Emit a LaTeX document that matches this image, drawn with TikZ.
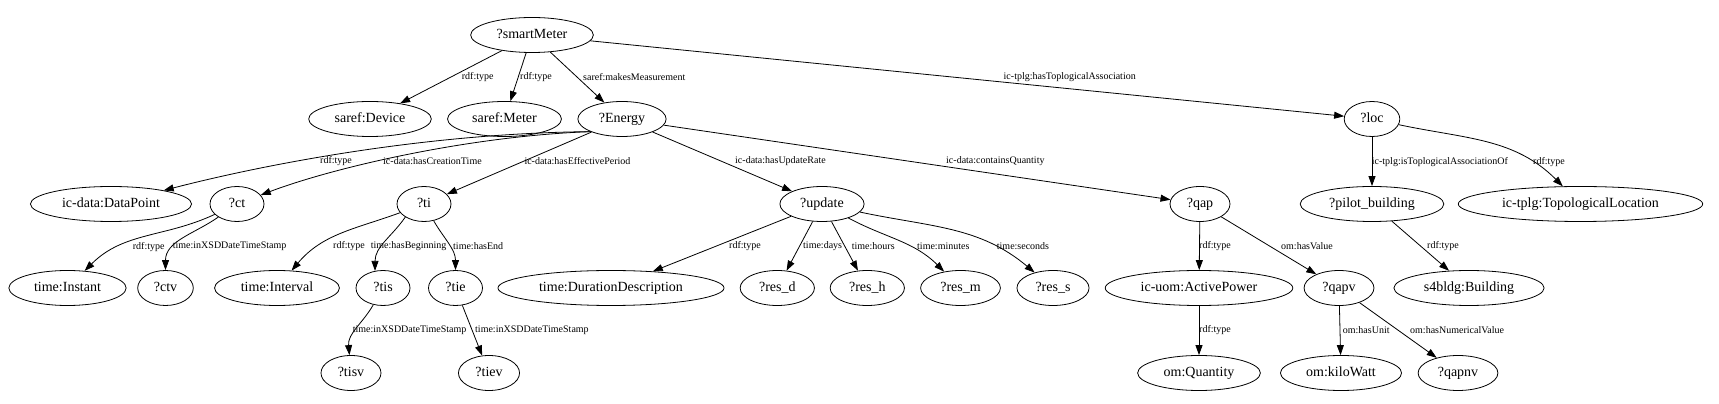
\documentclass[tikz,border=0pt]{standalone}
\usepackage{fontspec}
\setmainfont{Liberation Serif}
\usetikzlibrary{shapes.geometric,arrows.meta}

\begin{document}
\begin{tikzpicture}[x=1pt, y=1pt,
    rdfnode/.style={draw, ellipse, line width=0.8pt, font=\fontsize{14}{16}\selectfont,
      minimum width=54pt, minimum height=35pt, inner xsep=8pt, inner ysep=2pt,
      text height=9.5pt, text depth=3pt},
    rdflabel/.style={font=\fontsize{10}{12}\selectfont, inner sep=0pt, anchor=west},
    link/.style={line width=0.8pt, -{Triangle[length=10pt,width=7pt]}}]
    \useasboundingbox (0,0) rectangle (1719,404);
    \node[rdfnode] (sm) at (532,369) {?smartMeter};
    \node[rdfnode] (dev) at (370,285) {saref:Device};
    \node[rdfnode] (meter) at (504.5,285) {saref:Meter};
    \node[rdfnode] (en) at (622,285) {?Energy};
    \node[rdfnode] (loc) at (1372,285) {?loc};
    \node[rdfnode] (dp) at (111,200) {ic-data:DataPoint};
    \node[rdfnode] (ct) at (237,200) {?ct};
    \node[rdfnode] (ti) at (424,200) {?ti};
    \node[rdfnode] (upd) at (822,200) {?update};
    \node[rdfnode] (qap) at (1200,200) {?qap};
    \node[rdfnode] (pilot) at (1372,200) {?pilot\_building};
    \node[rdfnode] (toploc) at (1580.5,200) {ic-tplg:TopologicalLocation};
    \node[rdfnode] (inst) at (67.5,116) {time:Instant};
    \node[rdfnode] (ctv) at (165.5,116) {?ctv};
    \node[rdfnode] (intv) at (277,116) {time:Interval};
    \node[rdfnode] (tis) at (383,116) {?tis};
    \node[rdfnode] (tie) at (455.5,116) {?tie};
    \node[rdfnode] (durdesc) at (611,116) {time:DurationDescription};
    \node[rdfnode] (resd) at (777.3,116) {?res\_d};
    \node[rdfnode] (resh) at (867.3,116) {?res\_h};
    \node[rdfnode] (resm) at (960.5,116) {?res\_m};
    \node[rdfnode] (ress) at (1053,116) {?res\_s};
    \node[rdfnode] (actpow) at (1199,116) {ic-uom:ActivePower};
    \node[rdfnode] (qapv) at (1339,116) {?qapv};
    \node[rdfnode] (bldg) at (1469,116) {s4bldg:Building};
    \node[rdfnode] (tisv) at (351,31) {?tisv};
    \node[rdfnode] (tiev) at (489,31) {?tiev};
    \node[rdfnode] (qty) at (1199,31) {om:Quantity};
    \node[rdfnode] (kw) at (1341,31) {om:kiloWatt};
    \node[rdfnode] (qapnv) at (1458,31) {?qapnv};

    \draw[link] (sm) -- (dev);
    \draw[link] (sm) -- (meter);
    \draw[link] (sm) -- (en);
    \draw[link] (sm) -- (loc);
    \draw[link] (en.south west) .. controls (430,271) and (270,241) .. (dp);
    \draw[link] (en.south west) .. controls (470,268) and (335,237) .. (ct);
    \draw[link] (en) -- (ti);
    \draw[link] (en) -- (upd);
    \draw[link] (en) -- (qap);
    \draw[link] (loc) -- (pilot);
    \draw[link] (loc) to[out=-12,in=135] (toploc);
    \draw[link] (ct) to[out=205,in=45] (inst);
    \draw[link] (ct) to[out=215,in=90] (ctv);
    \draw[link] (ti) to[out=200,in=50] (intv);
    \draw[link] (ti.215) to[out=235,in=90] (tis.115);
    \draw[link] (ti.-60) to[out=-60,in=90] (tie);
    \draw[link] (upd) -- (durdesc);
    \draw[link] (upd) -- (resd);
    \draw[link] (upd) -- (resh);
    \draw[link] (upd) to[out=-28,in=135] (resm);
    \draw[link] (upd) to[out=-12,in=140] (ress);
    \draw[link] (qap) -- (actpow);
    \draw[link] (qap) -- (qapv);
    \draw[link] (pilot) -- (bldg);
    \draw[link] (tis) to[out=240,in=95] (tisv);
    \draw[link] (tie) -- (tiev);
    \draw[link] (actpow) -- (qty);
    \draw[link] (qapv) -- (kw);
    \draw[link] (qapv) -- (qapnv);

    \foreach \nm/\x/\y/\txt in {
        smdev/461.7/327/rdf:type, smmeter/520/327/rdf:type,
        smen/583/327/saref:makesMeasurement, smloc/1003.5/327/ic-tplg:hasToplogicalAssociation,
        endp/320/243/rdf:type, enct/383/243/ic-data:hasCreationTime,
        enti/524.3/243/ic-data:hasEffectivePeriod, enupd/735/243/ic-data:hasUpdateRate,
        enqap/946/243/ic-data:containsQuantity, locpilot/1371.7/242.3/ic-tplg:isToplogicalAssociationOf,
        loctop/1533/242.3/rdf:type, ctinst/132.7/157.3/rdf:type,
        ctctv/172.7/157.3/time:inXSDDateTimeStamp, tiintv/333/158/rdf:type,
        titis/370.7/158/time:hasBeginning, titie/453/158/time:hasEnd,
        upddur/729/158/rdf:type, updd/803/158/time:days, updh/851.7/158/time:hours,
        updm/917/158/time:minutes, upds/996.7/158/time:seconds,
        qapap/1199/158/rdf:type, qapqapv/1281/158/om:hasValue, pilotbldg/1427/158/rdf:type,
        tistisv/352.7/74/time:inXSDDateTimeStamp, tietiev/475/74/time:inXSDDateTimeStamp,
        apqty/1199/74/rdf:type, qapvkw/1342.7/74/om:hasUnit, qapvnv/1410/74/om:hasNumericalValue}
      \node[rdflabel] (l-\nm) at (\x,\y) {\txt};
\end{tikzpicture}
\end{document}
